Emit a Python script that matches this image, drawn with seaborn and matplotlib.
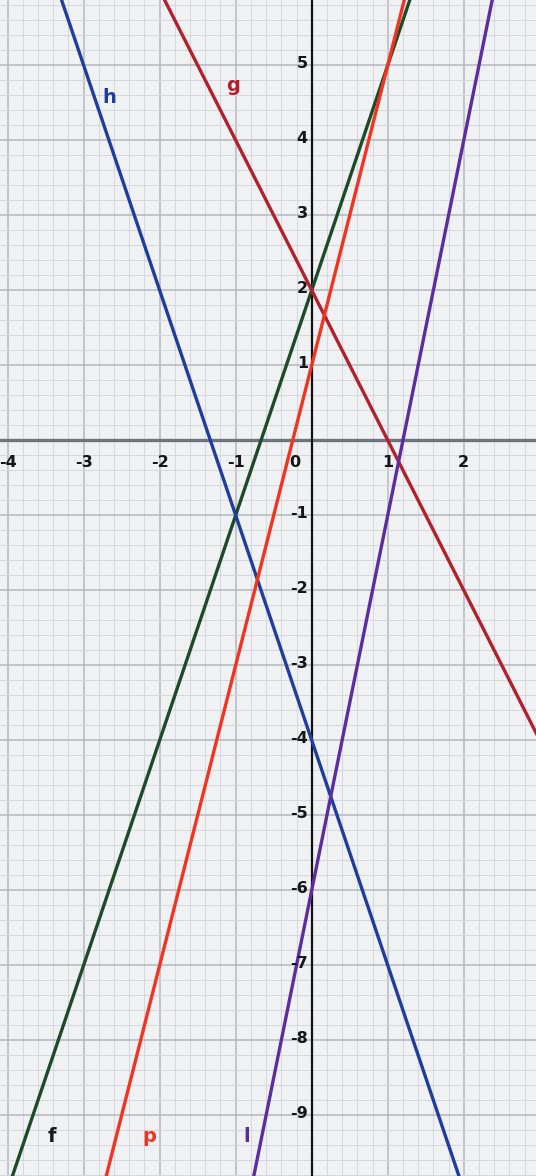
import numpy as np
import pandas as pd
import matplotlib
matplotlib.use("Agg")
import matplotlib.pyplot as plt
import seaborn as sns

# Linear functions y = m*x + b
names = ["f", "g", "h", "p", "l"]
slopes = [3, -2, -3, 4, 5]
intercepts = [2, 2, -4, 1, -6]
colors = ["#1d4a28", "#b3202c", "#1f3d9c", "#f2331f", "#5b2d9e"]

# Function name labels (position in data coordinates)
label_x = [-3.42, -1.03, -2.66, -2.13, -0.86]
label_y = [-9.28, 4.73, 4.57, -9.28, -9.28]
label_colors = ["#1a1a1a", "#b3202c", "#1f3d9c", "#f2331f", "#5b2d9e"]

# Axis tick labels
x_ticks = [-4, -3, -2, -1, 1, 2]
y_ticks = [5, 4, 3, 2, 1, -1, -2, -3, -4, -5, -6, -7, -8, -9]

xlim = (-4.1, 2.95)
ylim = (-9.81, 5.87)

sns.set_theme(style="white")
plt.rcParams["font.family"] = ["DejaVu Sans"]

fig = plt.figure(figsize=(5.36, 11.76), dpi=100)
ax = fig.add_axes([0, 0, 1, 1])
ax.set_facecolor("#f0f1f3")
ax.set_xlim(*xlim)
ax.set_ylim(*ylim)

# Graph-paper grid: minor every 0.2, major every 1
for v in np.arange(-5, 4.01, 0.2):
    major = abs(v - round(v)) < 1e-6
    ax.axvline(v, color="#b3b8c0" if major else "#d5d8de",
               lw=1.1 if major else 0.7, zorder=0)
for v in np.arange(-10, 6.01, 0.2):
    major = abs(v - round(v)) < 1e-6
    ax.axhline(v, color="#b3b8c0" if major else "#d5d8de",
               lw=1.1 if major else 0.7, zorder=0)

# Coordinate axes
ax.axhline(0, color="#6e747c", lw=2.4, zorder=1)
ax.axvline(0, color="#111111", lw=1.6, zorder=1)

# Build line data over the visible x-range
rows = []
for n, m, b in zip(names, slopes, intercepts):
    for x in (xlim[0] - 0.5, xlim[1] + 0.5):
        rows.append({"name": n, "x": x, "y": m * x + b})
df = pd.DataFrame(rows)
sns.lineplot(data=df, x="x", y="y", hue="name", palette=dict(zip(names, colors)),
             lw=2.4, legend=False, ax=ax, zorder=3, sort=False, estimator=None)

ax.set_xlim(*xlim)
ax.set_ylim(*ylim)

for n, x, y, c in zip(names, label_x, label_y, label_colors):
    ax.text(x, y, n, color=c, fontsize=14, fontweight="bold",
            ha="center", va="center", zorder=4)

for t in x_ticks:
    ax.text(t, -0.3, f"-{abs(t)}" if t < 0 else str(t), fontsize=11.5,
            fontweight="bold", ha="center", va="center", color="#151515", zorder=4)
ax.text(-0.22, -0.3, "0", fontsize=11.5, fontweight="bold",
        ha="center", va="center", color="#151515", zorder=4)
for t in y_ticks:
    ax.text(-0.05, t + 0.02, f"-{abs(t)}" if t < 0 else str(t), fontsize=11.5,
            fontweight="bold", ha="right", va="center", color="#151515", zorder=4)

ax.set_xlabel("")
ax.set_ylabel("")
ax.set_xticks([])
ax.set_yticks([])
for s in ax.spines.values():
    s.set_visible(False)

fig.savefig("out.png", dpi=100)
